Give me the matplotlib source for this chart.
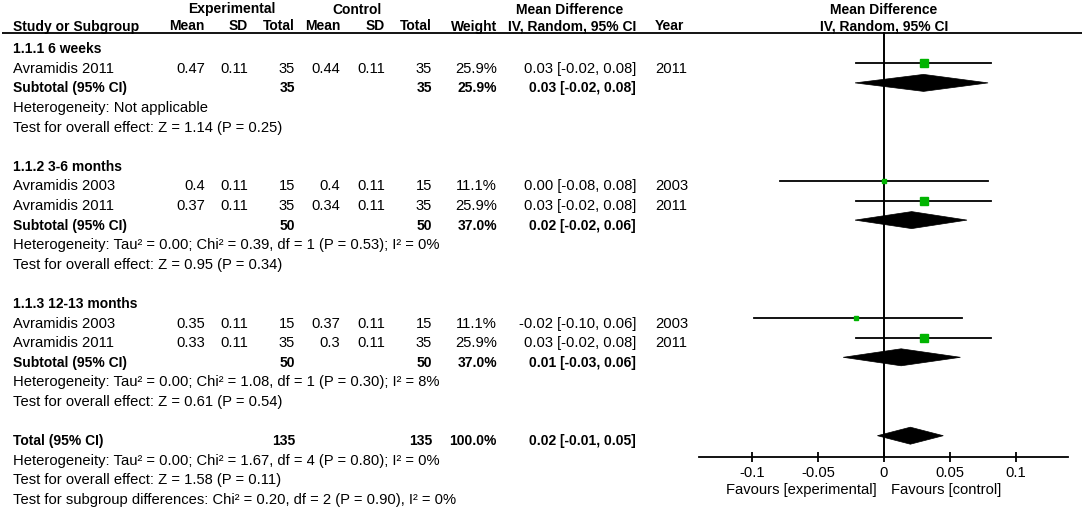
import matplotlib
matplotlib.use("Agg")
import matplotlib.pyplot as plt
from matplotlib.patches import Polygon

plt.rcParams['font.family'] = ['Liberation Sans', 'DejaVu Sans']
plt.rcParams['axes.unicode_minus'] = False

# ---------------- data ----------------
group_names = ['1.1.1 6 weeks', '1.1.2 3-6 months', '1.1.3 12-13 months']

study_names = ['Avramidis 2011', 'Avramidis 2003', 'Avramidis 2011', 'Avramidis 2003', 'Avramidis 2011']
study_group = [0, 1, 1, 2, 2]
exp_mean = [0.47, 0.4, 0.37, 0.35, 0.33]
exp_sd = [0.11, 0.11, 0.11, 0.11, 0.11]
exp_n = [35, 15, 35, 15, 35]
ctl_mean = [0.44, 0.4, 0.34, 0.37, 0.3]
ctl_sd = [0.11, 0.11, 0.11, 0.11, 0.11]
ctl_n = [35, 15, 35, 15, 35]
study_weight = [25.9, 11.1, 25.9, 11.1, 25.9]
study_md = [0.03, 0.00, 0.03, -0.02, 0.03]
study_lo = [-0.02, -0.08, -0.02, -0.10, -0.02]
study_hi = [0.08, 0.08, 0.08, 0.06, 0.08]
study_year = [2011, 2003, 2011, 2003, 2011]
# plotted (unrounded) estimates
study_md_plot = [0.030, 0.000, 0.030, -0.021, 0.030]
study_lo_plot = [-0.0215, -0.079, -0.0215, -0.099, -0.0215]
study_hi_plot = [0.0815, 0.079, 0.0815, 0.059, 0.0815]

sub_exp_n = [35, 50, 50]
sub_ctl_n = [35, 50, 50]
sub_weight = [25.9, 37.0, 37.0]
sub_md = [0.03, 0.02, 0.01]
sub_lo = [-0.02, -0.02, -0.03]
sub_hi = [0.08, 0.06, 0.06]
sub_md_plot = [0.030, 0.021, 0.013]
sub_lo_plot = [-0.022, -0.022, -0.031]
sub_hi_plot = [0.079, 0.063, 0.058]
sub_het = ['Heterogeneity: Not applicable',
           'Heterogeneity: Tau\u00b2 = 0.00; Chi\u00b2 = 0.39, df = 1 (P = 0.53); I\u00b2 = 0%',
           'Heterogeneity: Tau\u00b2 = 0.00; Chi\u00b2 = 1.08, df = 1 (P = 0.30); I\u00b2 = 8%']
sub_effect = ['Test for overall effect: Z = 1.14 (P = 0.25)',
              'Test for overall effect: Z = 0.95 (P = 0.34)',
              'Test for overall effect: Z = 0.61 (P = 0.54)']

total_exp_n = 135
total_ctl_n = 135
total_weight = 100.0
total_md = 0.02
total_lo = -0.01
total_hi = 0.05
total_md_plot = 0.020
total_lo_plot = -0.005
total_hi_plot = 0.045
total_notes = ['Heterogeneity: Tau\u00b2 = 0.00; Chi\u00b2 = 1.67, df = 4 (P = 0.80); I\u00b2 = 0%',
               'Test for overall effect: Z = 1.58 (P = 0.11)',
               'Test for subgroup differences: Chi\u00b2 = 0.20, df = 2 (P = 0.90), I\u00b2 = 0%']

xticks = [-0.1, -0.05, 0, 0.05, 0.1]
xtick_labels = ['-0.1', '-0.05', '0', '0.05', '0.1']
favours_left = 'Favours [experimental]'
favours_right = 'Favours [control]'

# ---------------- layout ----------------
W, H = 1084, 508
FS = 10.6
FSB = 10.0
GREEN = '#00B400'
fig = plt.figure(figsize=(W / 100, H / 100), dpi=100)
ax = fig.add_axes([0, 0, 1, 1])
ax.set_xlim(0, W)
ax.set_ylim(H, 0)
ax.axis('off')

AXIS_Y = 456.7
fx = fig.add_axes([699 / W, (H - AXIS_Y) / H, 369 / W, AXIS_Y / H])
fx.set_xlim(-0.1405, 0.1397)
fx.set_ylim(AXIS_Y, 0)
fx.patch.set_alpha(0)
for s in ['top', 'left', 'right']:
    fx.spines[s].set_visible(False)
fx.spines['bottom'].set_linewidth(1.3)
fx.set_yticks([])
fx.set_xticks(xticks)
fx.set_xticklabels(xtick_labels, fontsize=FS)
fx.tick_params(axis='x', direction='inout', length=7, width=1.3, pad=3.0)

ROW0 = 63.3
ROWH = 19.6
def mark_y(k):
    return ROW0 + (k - 1) * ROWH
def text_y(k):
    return mark_y(k) + 9.5

C_STUDY = 13
C_EMEAN, C_ESD, C_EN = 205, 248, 295
C_CMEAN, C_CSD, C_CN = 340, 385, 432
C_W, C_CI, C_YEAR = 497, 636, 655

def t(x, y, s, ha='left', bold=False, **kw):
    ax.text(x, y, s, ha=ha, va='baseline', fontsize=FSB if bold else FS,
            fontweight='bold' if bold else 'normal', **kw)

# headers
HB1, HB2 = 13.5, 30.5
t(232, HB1, 'Experimental', ha='center', bold=True)
t(357, HB1, 'Control', ha='center', bold=True)
t(570, HB1, 'Mean Difference', ha='center', bold=True)
t(884, HB1, 'Mean Difference', ha='center', bold=True)
t(C_STUDY, HB2, 'Study or Subgroup', bold=True)
for x, s in [(C_EMEAN, 'Mean'), (C_ESD, 'SD'), (C_EN, 'Total'), (C_CMEAN, 'Mean'),
             (C_CSD, 'SD'), (C_CN, 'Total'), (C_W, 'Weight')]:
    t(x, HB2, s, ha='right', bold=True)
t(C_CI, HB2, 'IV, Random, 95% CI', ha='right', bold=True)
t(C_YEAR, HB2, 'Year', bold=True)
t(884, HB2, 'IV, Random, 95% CI', ha='center', bold=True)
ax.plot([2, 1082], [33, 33], color='black', lw=1.3, solid_capstyle='butt')

fx.axvline(0, ymin=0, ymax=(AXIS_Y - 33) / AXIS_Y, color='black', lw=1.4)

def diamond(k, c, lo, hi, half=8.5):
    y = mark_y(k)
    fx.add_patch(Polygon([(lo, y), (c, y - half), (hi, y), (c, y + half)],
                         closed=True, facecolor='black', edgecolor='black', lw=0.5))

row = 0
si = 0
for g, gname in enumerate(group_names):
    t(C_STUDY, text_y(row), gname, bold=True)
    row += 1
    while si < len(study_names) and study_group[si] == g:
        y = text_y(row)
        t(C_STUDY, y, study_names[si])
        t(C_EMEAN, y, f'{exp_mean[si]:g}', ha='right')
        t(C_ESD, y, f'{exp_sd[si]:g}', ha='right')
        t(C_EN, y, f'{exp_n[si]}', ha='right')
        t(C_CMEAN, y, f'{ctl_mean[si]:g}', ha='right')
        t(C_CSD, y, f'{ctl_sd[si]:g}', ha='right')
        t(C_CN, y, f'{ctl_n[si]}', ha='right')
        t(C_W, y, f'{study_weight[si]:.1f}%', ha='right')
        t(C_CI, y, f'{study_md[si]:.2f} [{study_lo[si]:.2f}, {study_hi[si]:.2f}]', ha='right')
        t(C_YEAR, y, f'{study_year[si]}')
        my = mark_y(row)
        fx.plot([study_lo_plot[si], study_hi_plot[si]], [my, my], color='black', lw=1.3)
        ms = 2.0 + study_weight[si] * 0.12
        fx.plot([study_md_plot[si]], [my], marker='s', ms=ms, color=GREEN,
                markeredgecolor=GREEN, linestyle='none')
        row += 1
        si += 1
    y = text_y(row)
    t(C_STUDY, y, 'Subtotal (95% CI)', bold=True)
    t(C_EN, y, f'{sub_exp_n[g]}', ha='right', bold=True)
    t(C_CN, y, f'{sub_ctl_n[g]}', ha='right', bold=True)
    t(C_W, y, f'{sub_weight[g]:.1f}%', ha='right', bold=True)
    t(C_CI, y, f'{sub_md[g]:.2f} [{sub_lo[g]:.2f}, {sub_hi[g]:.2f}]', ha='right', bold=True)
    diamond(row, sub_md_plot[g], sub_lo_plot[g], sub_hi_plot[g])
    row += 1
    t(C_STUDY, text_y(row), sub_het[g])
    row += 1
    t(C_STUDY, text_y(row), sub_effect[g])
    row += 2

y = text_y(row)
t(C_STUDY, y, 'Total (95% CI)', bold=True)
t(C_EN, y, f'{total_exp_n}', ha='right', bold=True)
t(C_CN, y, f'{total_ctl_n}', ha='right', bold=True)
t(C_W, y, f'{total_weight:.1f}%', ha='right', bold=True)
t(C_CI, y, f'{total_md:.2f} [{total_lo:.2f}, {total_hi:.2f}]', ha='right', bold=True)
diamond(row, total_md_plot, total_lo_plot, total_hi_plot)
row += 1
for note in total_notes:
    t(C_STUDY, text_y(row), note)
    row += 1

t(877, 494, favours_left, ha='right')
t(891, 494, favours_right, ha='left')

fig.savefig('out.png', dpi=100)
